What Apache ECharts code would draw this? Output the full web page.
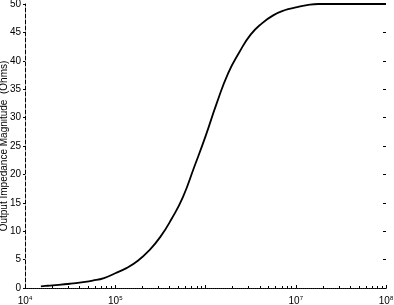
<!DOCTYPE html>
<html>
<head>
<meta charset="utf-8">
<script src="https://cdn.jsdelivr.net/npm/echarts@6/dist/echarts.min.js"></script>
<style>
html,body{margin:0;padding:0;background:#fff;}
#c{width:394px;height:305px;}
</style>
</head>
<body>
<div id="c"></div>
<script>
var frequencies = [1.5e4, 1.78e4, 2.37e4, 3.16e4, 4.22e4, 5.62e4, 7.5e4, 1e5, 1.33e5, 1.78e5, 2.37e5, 3.16e5, 4.22e5, 5.62e5, 7.5e5, 1e6, 1.33e6, 1.78e6, 2.37e6, 3.16e6, 4.22e6, 5.62e6, 7.5e6, 1e7, 1.33e7, 1.78e7, 3e7, 1e8];
var impedance   = [0.3, 0.4, 0.55, 0.75, 1.0, 1.3, 1.75, 2.6, 3.5, 4.8, 6.6, 9.0, 12.2, 16.0, 21.3, 26.7, 32.5, 37.8, 41.5, 44.6, 46.6, 48.0, 48.9, 49.4, 49.8, 50, 50, 50];
var xTickExponents = [4, 5, 7, 8];
var yTicks = [0, 5, 10, 15, 20, 25, 30, 35, 40, 45, 50];
var yLabel = 'Output Impedance Magnitude  (Ohms)';

var font = 'Liberation Sans, Arial, Helvetica, sans-serif';
var chart = echarts.init(document.getElementById('c'), null, {renderer: 'canvas'});
var points = frequencies.map(function (f, i) { return [f, impedance[i]]; });

chart.setOption({
  animation: false,
  backgroundColor: '#fff',
  grid: {left: 25, right: 8, top: 4, bottom: 17, containLabel: false, outerBoundsMode: 'none'},
  xAxis: [{
    type: 'log', logBase: 10, min: 1e4, max: 1e8,
    axisLine: {show: true, lineStyle: {color: '#000', width: 1, type: 'dotted'}},
    axisTick: {show: true, inside: true, length: 3, lineStyle: {color: '#000'}},
    minorTick: {show: true, splitNumber: 9, length: 2, lineStyle: {color: '#000'}},
    splitLine: {show: false},
    axisLabel: {
      margin: 7, color: '#000', fontFamily: font, fontSize: 10, hideOverlap: false,
      formatter: function (v) {
        var e = Math.round(Math.log10(v));
        return xTickExponents.indexOf(e) >= 0 ? '10{s|' + e + '}' : '';
      },
      rich: {s: {fontSize: 6, verticalAlign: 'top', padding: [0, 0, 6, 0], fontFamily: font, color: '#000'}}
    }
  }, {
    type: 'log', logBase: 10, min: 1e4, max: 1e8, position: 'top',
    axisLine: {show: true, lineStyle: {color: '#000', width: 1, type: 'dotted'}},
    axisTick: {show: false}, axisLabel: {show: false}, splitLine: {show: false}
  }],
  yAxis: [{
    type: 'value', min: 0, max: 50, interval: 5,
    name: yLabel, nameLocation: 'middle', nameGap: 16, nameRotate: 90, nameMoveOverlap: false,
    nameTextStyle: {color: '#000', fontFamily: font, fontSize: 10},
    axisLine: {show: true, lineStyle: {color: '#000', width: 1, type: 'dashed'}},
    axisTick: {show: true, inside: false, length: 2, lineStyle: {color: '#000'}},
    splitLine: {show: false},
    axisLabel: {margin: 4, color: '#000', fontFamily: font, fontSize: 10}
  }, {
    type: 'value', min: 0, max: 50, interval: 5, position: 'right',
    axisLine: {show: false},
    axisTick: {show: true, inside: true, length: 3, lineStyle: {color: '#000'}},
    axisLabel: {show: false}, splitLine: {show: false}
  }],
  series: [{
    type: 'line', data: points, xAxisIndex: 0, yAxisIndex: 0,
    smooth: 0.5, showSymbol: false,
    lineStyle: {color: '#000', width: 1.8}
  }]
});
</script>
</body>
</html>
